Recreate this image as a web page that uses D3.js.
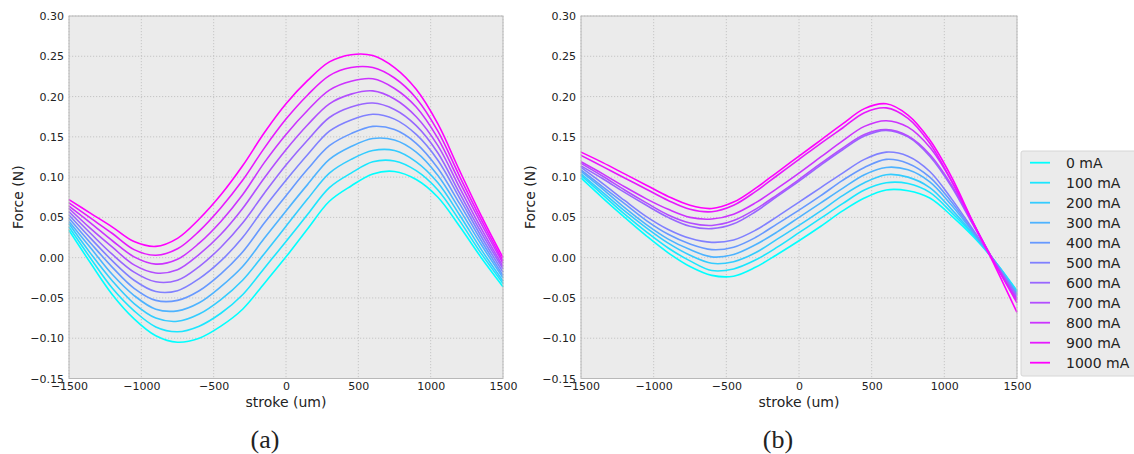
<!DOCTYPE html>
<html>
<head>
<meta charset="utf-8">
<script src="https://cdn.jsdelivr.net/npm/d3@7"></script>
<style>
  body { margin: 0; background: #fff; }
  svg text { font-family: "DejaVu Sans", sans-serif; fill: #222; }
</style>
</head>
<body>
<div id="chart"></div>
<script>
var strokeUm = [-1500,-1350,-1200,-1050,-900,-750,-600,-450,-300,-150,0,150,300,450,600,750,900,1050,1200,1350,1500];
var currents = [0,100,200,300,400,500,600,700,800,900,1000];
var xTicks = [-1500,-1000,-500,0,500,1000,1500];
var yTicks = [-0.15,-0.10,-0.05,0.00,0.05,0.10,0.15,0.20,0.25,0.30];

// panel (a) force (N)
var forceA_0    = [0.034,-0.007,-0.046,-0.076,-0.097,-0.105,-0.100,-0.085,-0.064,-0.032,0.001,0.036,0.070,0.089,0.104,0.107,0.097,0.075,0.039,0.000,-0.036];
var forceA_100  = [0.038,-0.001,-0.038,-0.066,-0.086,-0.092,-0.085,-0.069,-0.046,-0.013,0.020,0.054,0.087,0.105,0.119,0.120,0.108,0.084,0.046,0.005,-0.032];
var forceA_200  = [0.042,0.005,-0.029,-0.057,-0.075,-0.079,-0.070,-0.052,-0.028,0.005,0.039,0.073,0.105,0.122,0.133,0.133,0.119,0.093,0.053,0.010,-0.029];
var forceA_300  = [0.045,0.012,-0.021,-0.047,-0.064,-0.066,-0.056,-0.036,-0.011,0.024,0.058,0.091,0.122,0.138,0.148,0.146,0.131,0.102,0.060,0.016,-0.025];
var forceA_400  = [0.049,0.018,-0.012,-0.038,-0.053,-0.053,-0.041,-0.020,0.007,0.043,0.077,0.110,0.139,0.154,0.163,0.159,0.142,0.111,0.067,0.021,-0.022];
var forceA_500  = [0.053,0.024,-0.004,-0.028,-0.042,-0.041,-0.026,-0.004,0.025,0.062,0.096,0.128,0.157,0.171,0.178,0.172,0.153,0.121,0.074,0.026,-0.018];
var forceA_600  = [0.057,0.030,0.004,-0.018,-0.030,-0.028,-0.011,0.013,0.043,0.080,0.115,0.146,0.174,0.187,0.192,0.184,0.164,0.130,0.080,0.031,-0.014];
var forceA_700  = [0.061,0.036,0.013,-0.009,-0.019,-0.015,0.004,0.029,0.061,0.099,0.134,0.165,0.191,0.203,0.207,0.197,0.175,0.139,0.087,0.036,-0.011];
var forceA_800  = [0.064,0.043,0.021,0.001,-0.008,-0.002,0.018,0.045,0.078,0.118,0.153,0.183,0.208,0.219,0.222,0.210,0.187,0.148,0.094,0.042,-0.007];
var forceA_900  = [0.068,0.049,0.030,0.010,0.003,0.011,0.033,0.062,0.096,0.136,0.172,0.202,0.226,0.236,0.236,0.223,0.198,0.157,0.101,0.047,-0.004];
var forceA_1000 = [0.072,0.055,0.038,0.020,0.014,0.024,0.048,0.078,0.114,0.155,0.191,0.220,0.243,0.252,0.251,0.236,0.209,0.166,0.108,0.052,0.000];

// panel (b) force (N)
var forceB_0    = [0.099,0.074,0.050,0.027,0.006,-0.011,-0.022,-0.023,-0.012,0.004,0.021,0.039,0.058,0.074,0.084,0.083,0.074,0.052,0.026,-0.005,-0.041];
var forceB_100  = [0.102,0.078,0.054,0.032,0.012,-0.004,-0.016,-0.014,-0.003,0.013,0.031,0.049,0.067,0.084,0.093,0.092,0.081,0.056,0.028,-0.005,-0.042];
var forceB_200  = [0.104,0.081,0.058,0.037,0.018,0.003,-0.007,-0.005,0.006,0.023,0.040,0.058,0.077,0.093,0.103,0.100,0.087,0.060,0.029,-0.005,-0.043];
var forceB_300  = [0.107,0.085,0.062,0.041,0.023,0.010,0.001,0.004,0.016,0.032,0.050,0.068,0.086,0.103,0.112,0.109,0.094,0.065,0.031,-0.006,-0.045];
var forceB_400  = [0.109,0.088,0.067,0.046,0.029,0.017,0.010,0.013,0.025,0.042,0.059,0.077,0.096,0.112,0.122,0.117,0.100,0.069,0.032,-0.006,-0.046];
var forceB_500  = [0.112,0.092,0.071,0.051,0.035,0.024,0.019,0.022,0.034,0.051,0.069,0.087,0.105,0.122,0.131,0.126,0.107,0.073,0.034,-0.006,-0.047];
var forceB_600  = [0.114,0.098,0.081,0.065,0.050,0.039,0.036,0.042,0.057,0.076,0.095,0.115,0.134,0.151,0.158,0.150,0.126,0.088,0.040,-0.007,-0.050];
var forceB_700  = [0.117,0.101,0.084,0.068,0.053,0.043,0.040,0.046,0.060,0.078,0.097,0.117,0.136,0.153,0.159,0.151,0.128,0.090,0.041,-0.007,-0.051];
var forceB_800  = [0.119,0.104,0.088,0.073,0.060,0.050,0.048,0.054,0.068,0.086,0.105,0.125,0.145,0.163,0.170,0.162,0.137,0.095,0.043,-0.008,-0.053];
var forceB_900  = [0.127,0.113,0.099,0.085,0.071,0.060,0.057,0.065,0.082,0.102,0.122,0.142,0.161,0.180,0.186,0.173,0.142,0.095,0.042,-0.008,-0.056];
var forceB_1000 = [0.131,0.118,0.104,0.090,0.076,0.065,0.061,0.069,0.086,0.106,0.126,0.146,0.166,0.185,0.191,0.177,0.146,0.100,0.043,-0.011,-0.068];

var seriesA = [forceA_0,forceA_100,forceA_200,forceA_300,forceA_400,forceA_500,forceA_600,forceA_700,forceA_800,forceA_900,forceA_1000];
var seriesB = [forceB_0,forceB_100,forceB_200,forceB_300,forceB_400,forceB_500,forceB_600,forceB_700,forceB_800,forceB_900,forceB_1000];

var w = 1134, h = 454;
var svg = d3.select("#chart").append("svg")
  .attr("width", w)
  .attr("height", h);

// matplotlib "cool" colormap
function coolColor(i) {
  var t = i / (currents.length - 1);
  return d3.rgb(Math.round(255 * t), Math.round(255 * (1 - t)), 255).toString();
}

function drawPanel(series, left, right, tag) {
  var top = 16, bottom = 378.5;
  var x = d3.scaleLinear().domain([-1500, 1500]).range([left, right]);
  var y = d3.scaleLinear().domain([-0.15, 0.30]).range([bottom, top]);

  var g = svg.append("g");

  g.append("rect")
    .attr("x", left).attr("y", top)
    .attr("width", right - left).attr("height", bottom - top)
    .style("fill", "#ebebeb");

  // grid
  g.selectAll(".gx").data(xTicks).join("line")
    .attr("x1", d => x(d)).attr("x2", d => x(d))
    .attr("y1", top).attr("y2", bottom)
    .style("stroke", "#bdbdbd").style("stroke-width", 0.8)
    .style("stroke-dasharray", "1.2,1.8");
  g.selectAll(".gy").data(yTicks).join("line")
    .attr("x1", left).attr("x2", right)
    .attr("y1", d => y(d)).attr("y2", d => y(d))
    .style("stroke", "#bdbdbd").style("stroke-width", 0.8)
    .style("stroke-dasharray", "1.2,1.8");

  // curves
  var line = d3.line()
    .x((d, i) => x(strokeUm[i]))
    .y(d => y(d))
    .curve(d3.curveCatmullRom.alpha(0.5));

  g.selectAll(".curve").data(series).join("path")
    .attr("d", line)
    .style("fill", "none")
    .style("stroke", (d, i) => coolColor(i))
    .style("stroke-width", 1.6);

  // frame
  g.append("rect")
    .attr("x", left).attr("y", top)
    .attr("width", right - left).attr("height", bottom - top)
    .style("fill", "none").style("stroke", "#b8b8b8").style("stroke-width", 1);

  // axes
  var xAxis = d3.axisBottom(x).tickValues(xTicks).tickSize(0).tickPadding(4)
    .tickFormat(d3.format("d"));
  var yAxis = d3.axisLeft(y).tickValues(yTicks).tickSize(0).tickPadding(5)
    .tickFormat(d3.format(".2f"));

  var gx = g.append("g").attr("transform", "translate(0," + bottom + ")").call(xAxis);
  var gy = g.append("g").attr("transform", "translate(" + left + ",0)").call(yAxis);
  gx.select(".domain").remove();
  gy.select(".domain").remove();
  gx.selectAll("text").style("font-size", "11px").style("fill", "#222");
  gy.selectAll("text").style("font-size", "11px").style("fill", "#222");

  g.append("text")
    .attr("x", (left + right) / 2).attr("y", 407)
    .attr("text-anchor", "middle")
    .style("font-size", "14px")
    .text("stroke (um)");

  g.append("text")
    .attr("transform", "translate(" + (left - 46) + "," + ((top + bottom) / 2) + ") rotate(-90)")
    .attr("text-anchor", "middle")
    .style("font-size", "14px")
    .text("Force (N)");

  g.append("text")
    .attr("x", (left + right) / 2 - 21).attr("y", 448)
    .attr("text-anchor", "middle")
    .style("font-family", "'Liberation Serif', serif")
    .style("font-size", "26px")
    .text("(" + tag + ")");
}

drawPanel(seriesA, 69, 503, "a");
drawPanel(seriesB, 581, 1017, "b");

// legend
var legend = svg.append("g");
legend.append("rect")
  .attr("x", 1021).attr("y", 151)
  .attr("width", 130).attr("height", 225)
  .attr("rx", 2)
  .style("fill", "#ebebeb").style("stroke", "#d6d6d6");

var rows = legend.selectAll(".row").data(currents).join("g")
  .attr("transform", (d, i) => "translate(0," + (162.7 + i * 20) + ")");
rows.append("line")
  .attr("x1", 1030).attr("x2", 1050)
  .style("stroke", (d, i) => coolColor(i))
  .style("stroke-width", 1.8);
rows.append("text")
  .attr("x", 1066).attr("dy", "0.35em")
  .style("font-size", "14px")
  .text(d => d + " mA");
</script>
</body>
</html>
